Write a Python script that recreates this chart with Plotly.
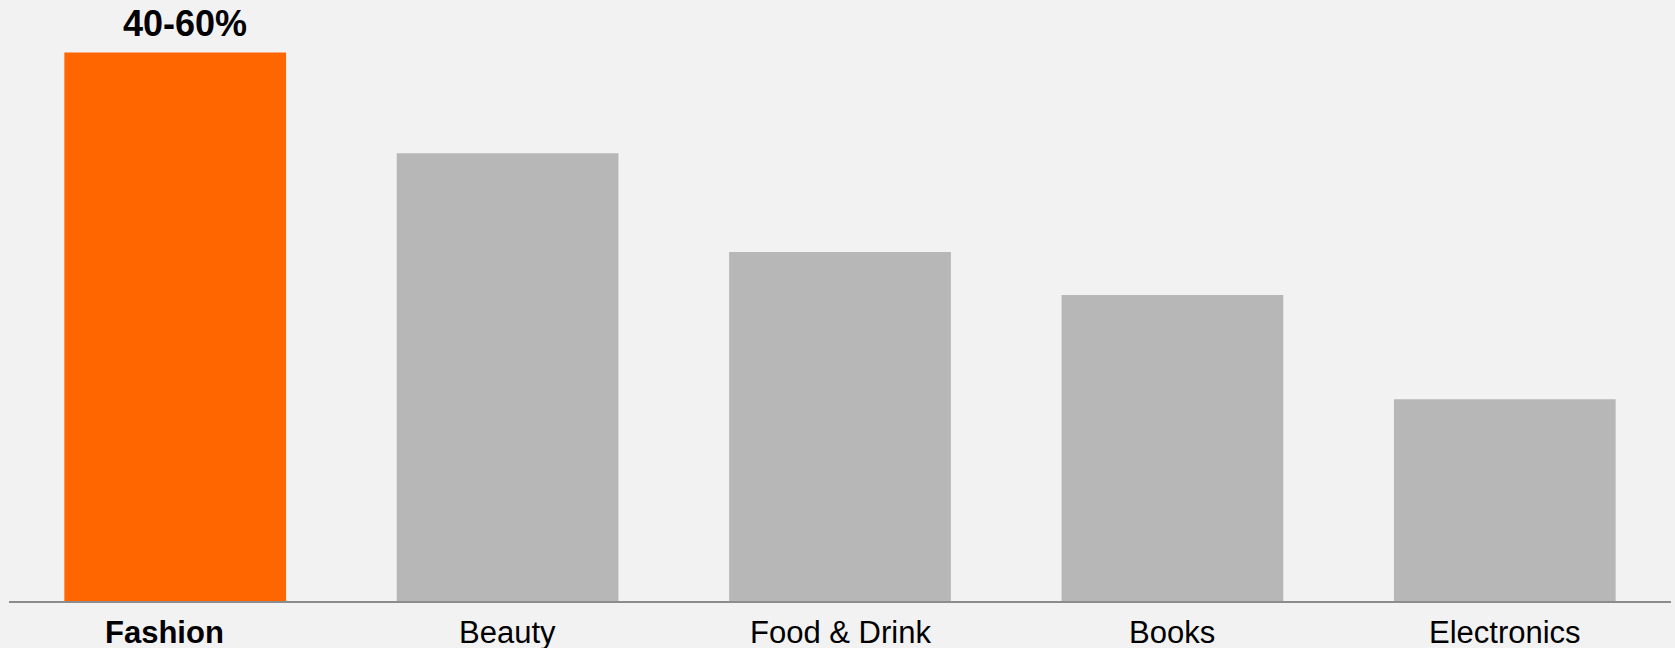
import plotly.graph_objects as go

categories = ["Fashion", "Beauty", "Food & Drink", "Books", "Electronics"]
values = [100, 81.6, 63.6, 55.8, 36.8]
bar_colors = ["#ff6600", "#b7b7b7", "#b7b7b7", "#b7b7b7", "#b7b7b7"]
highlight_label = "40-60%"

fig = go.Figure()
fig.add_trace(go.Bar(
    x=categories, y=values,
    marker=dict(color=bar_colors, line=dict(width=0)),
    hoverinfo="skip",
))

# value label over highlighted bar
fig.add_annotation(
    x=categories[0], y=values[0], xref="x", yref="y",
    text="<b>" + highlight_label + "</b>", showarrow=False,
    yanchor="bottom", xshift=10, yshift=6,
    font=dict(family="Liberation Sans, Arial, sans-serif", size=36, color="#000000"),
)

# category labels
for i, c in enumerate(categories):
    fig.add_annotation(
        x=c, y=0, xref="x", yref="paper",
        text=("<b>" + c + "</b>") if i == 0 else c, showarrow=False,
        yanchor="top", yshift=-12, xshift=-11 if i == 0 else 0,
        font=dict(family="Liberation Sans, Arial, sans-serif", size=31, color="#000000"),
    )

fig.update_layout(
    width=1675, height=648,
    margin=dict(l=9, r=4, t=25, b=47),
    paper_bgcolor="#f2f2f2", plot_bgcolor="#f2f2f2",
    bargap=0.333,
    showlegend=False,
    xaxis=dict(showticklabels=False, showgrid=False, zeroline=False,
               showline=True, linecolor="#8c8c8c", linewidth=2, ticks=""),
    yaxis=dict(range=[0, 105], visible=False, showgrid=False, zeroline=False),
)

fig.write_html("out.html")
